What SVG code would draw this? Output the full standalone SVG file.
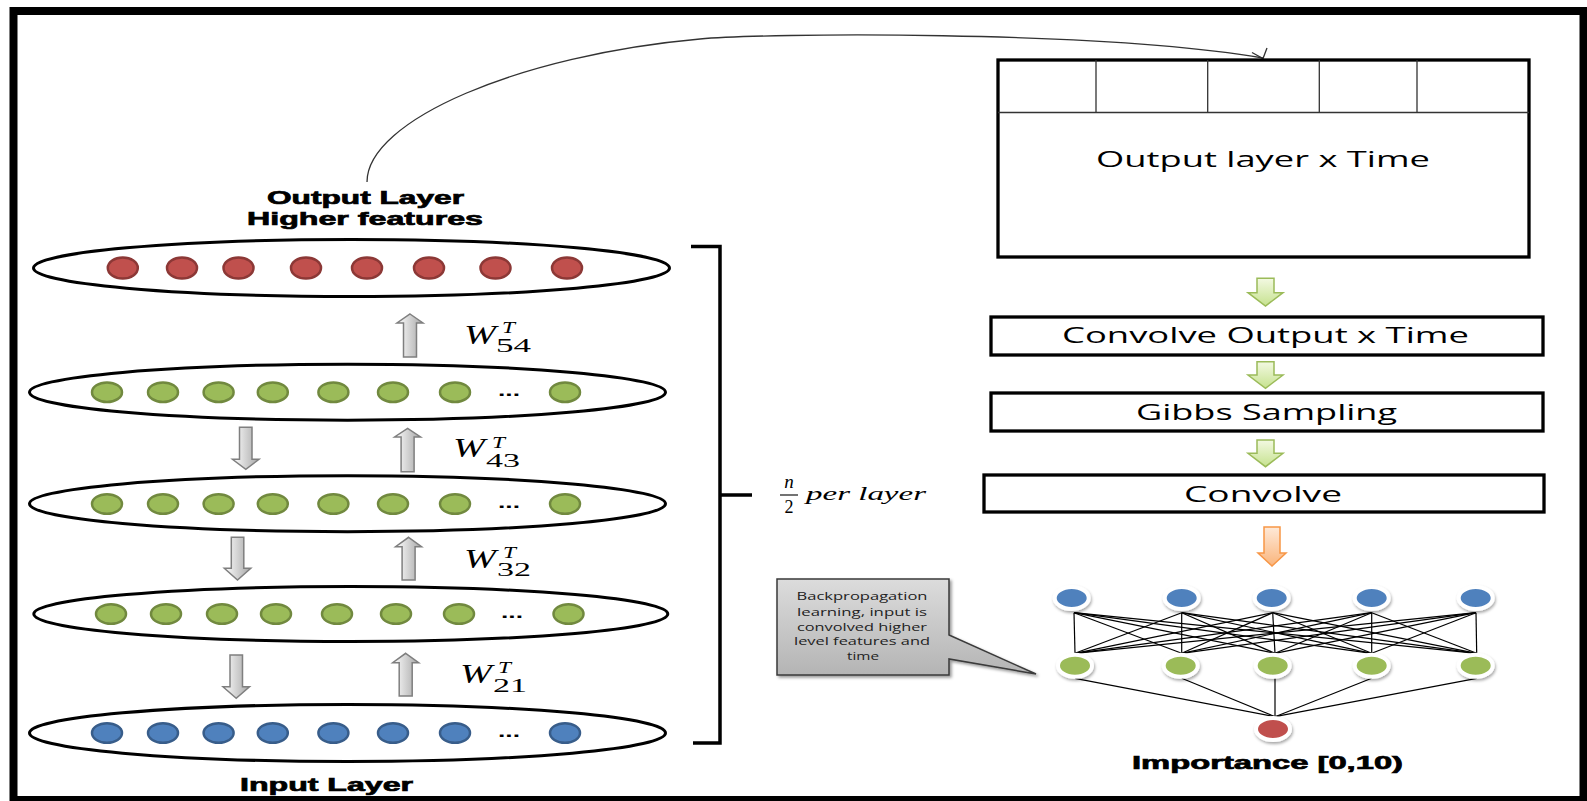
<svg xmlns="http://www.w3.org/2000/svg" width="1587" height="801" viewBox="0 0 1587 801">
<defs>
<linearGradient id="gGray" x1="0" y1="0" x2="1" y2="0"><stop offset="0" stop-color="#ffffff"/><stop offset="1" stop-color="#a6a6a6"/></linearGradient>
<linearGradient id="gGreen" x1="0" y1="0" x2="0" y2="1"><stop offset="0" stop-color="#f3f9e2"/><stop offset="1" stop-color="#c6e28f"/></linearGradient>
<linearGradient id="gOrange" x1="0" y1="0" x2="0" y2="1"><stop offset="0" stop-color="#fee9d8"/><stop offset="1" stop-color="#fab57c"/></linearGradient>
<linearGradient id="gCall" x1="0" y1="0" x2="0" y2="1"><stop offset="0" stop-color="#dcdcdc"/><stop offset="1" stop-color="#b4b4b4"/></linearGradient>
<filter id="sh" x="-30%" y="-30%" width="160%" height="160%"><feDropShadow dx="1" dy="2" stdDeviation="1.8" flood-color="#000" flood-opacity="0.35"/></filter>
<filter id="sh2" x="-10%" y="-10%" width="130%" height="130%"><feDropShadow dx="2" dy="2" stdDeviation="1.5" flood-color="#000" flood-opacity="0.4"/></filter>
</defs>
<style>
.frame{fill:none;stroke:#000;stroke-width:8}
.layer{fill:#fff;stroke:#000;stroke-width:3}
.red{fill:#c0504d;stroke:#8c3836;stroke-width:2.5}
.grn{fill:#9bbb59;stroke:#71893f;stroke-width:2.5}
.blu{fill:#4f81bd;stroke:#385d8a;stroke-width:2.5}
.garr{fill:url(#gGray);stroke:#7f7f7f;stroke-width:1.5}
.farr{fill:url(#gGreen);stroke:#9bbb59;stroke-width:1.5}
.oarr{fill:url(#gOrange);stroke:#f79646;stroke-width:1.5}
.box{fill:#fff;stroke:#000;stroke-width:3.3}
.thin{stroke:#333;stroke-width:1.3;fill:none}
.bold{font-family:"Liberation Sans",Arial,sans-serif;font-weight:bold;font-size:19px;fill:#000;stroke:#000;stroke-width:0.7}
.cal{font-family:"Open Sans",Lato,sans-serif;font-size:22px;fill:#000}
.math{font-family:"Liberation Serif","Times New Roman",serif;fill:#000}
.it{font-style:italic}
.small{font-family:"Open Sans",Lato,sans-serif;font-size:11px;fill:#222;text-anchor:middle}
.nb{fill:#4f81bd;stroke:#fff;stroke-width:4;filter:url(#sh)}
.ng{fill:#9bbb59;stroke:#fff;stroke-width:4;filter:url(#sh)}
.nr{fill:#c0504d;stroke:#fff;stroke-width:4;filter:url(#sh)}
.edge{stroke:#000;stroke-width:1.2}
.br{stroke:#000;stroke-width:3.5;fill:none}
.dots{font-family:"Liberation Sans",Arial,sans-serif;font-weight:bold;font-size:16px;fill:#000}
</style>
<rect class="frame" x="13.5" y="11" width="1570" height="789"/>

<g id="connectors">
<path class="thin" d="M367,182 C367,120 520,55 700,39 C760,33 1100,30 1263,58"/>
<path class="thin" d="M1252,52.5 L1263,58.5 L1267,48"/>
<path class="br" d="M691,246.5 H720 V743 H693 M720,495 H752"/>
</g>

<g id="layer5">
<ellipse class="layer" cx="351.5" cy="268" rx="318" ry="28.5"/>
<ellipse class="red" cx="122.8" cy="268" rx="15" ry="10.5"/>
<ellipse class="red" cx="182" cy="268" rx="15" ry="10.5"/>
<ellipse class="red" cx="238.5" cy="268" rx="15" ry="10.5"/>
<ellipse class="red" cx="306" cy="268" rx="15" ry="10.5"/>
<ellipse class="red" cx="367" cy="268" rx="15" ry="10.5"/>
<ellipse class="red" cx="429" cy="268" rx="15" ry="10.5"/>
<ellipse class="red" cx="495.5" cy="268" rx="15" ry="10.5"/>
<ellipse class="red" cx="567" cy="268" rx="15" ry="10.5"/>
</g>
<g id="label-output">
<text class="bold" x="267" y="203.5" textLength="197" lengthAdjust="spacingAndGlyphs">Output Layer</text>
<text class="bold" x="247" y="225" textLength="236" lengthAdjust="spacingAndGlyphs">Higher features</text>
</g>

<g id="layer4">
<ellipse class="layer" cx="347.5" cy="392.2" rx="318" ry="28"/>
<ellipse class="grn" cx="107" cy="392.2" rx="15" ry="9.8"/>
<ellipse class="grn" cx="163" cy="392.2" rx="15" ry="9.8"/>
<ellipse class="grn" cx="218.6" cy="392.2" rx="15" ry="9.8"/>
<ellipse class="grn" cx="272.8" cy="392.2" rx="15" ry="9.8"/>
<ellipse class="grn" cx="333.4" cy="392.2" rx="15" ry="9.8"/>
<ellipse class="grn" cx="393" cy="392.2" rx="15" ry="9.8"/>
<ellipse class="grn" cx="455" cy="392.2" rx="15" ry="9.8"/>
<text class="dots" x="498" y="396" textLength="22" lengthAdjust="spacingAndGlyphs">...</text>
<ellipse class="grn" cx="565" cy="392.2" rx="15" ry="9.8"/>
</g>

<g id="layer3">
<ellipse class="layer" cx="347.5" cy="503.7" rx="318" ry="28"/>
<ellipse class="grn" cx="107" cy="504" rx="15" ry="9.8"/>
<ellipse class="grn" cx="163" cy="504" rx="15" ry="9.8"/>
<ellipse class="grn" cx="218.6" cy="504" rx="15" ry="9.8"/>
<ellipse class="grn" cx="272.8" cy="504" rx="15" ry="9.8"/>
<ellipse class="grn" cx="333.4" cy="504" rx="15" ry="9.8"/>
<ellipse class="grn" cx="393" cy="504" rx="15" ry="9.8"/>
<ellipse class="grn" cx="455" cy="504" rx="15" ry="9.8"/>
<text class="dots" x="498" y="508" textLength="22" lengthAdjust="spacingAndGlyphs">...</text>
<ellipse class="grn" cx="565" cy="504" rx="15" ry="9.8"/>
</g>

<g id="layer2">
<ellipse class="layer" cx="350.8" cy="614" rx="317" ry="27.5"/>
<ellipse class="grn" cx="111" cy="614" rx="15" ry="9.8"/>
<ellipse class="grn" cx="166" cy="614" rx="15" ry="9.8"/>
<ellipse class="grn" cx="222" cy="614" rx="15" ry="9.8"/>
<ellipse class="grn" cx="276" cy="614" rx="15" ry="9.8"/>
<ellipse class="grn" cx="337" cy="614" rx="15" ry="9.8"/>
<ellipse class="grn" cx="396" cy="614" rx="15" ry="9.8"/>
<ellipse class="grn" cx="459" cy="614" rx="15" ry="9.8"/>
<text class="dots" x="501" y="618" textLength="22" lengthAdjust="spacingAndGlyphs">...</text>
<ellipse class="grn" cx="568.5" cy="614" rx="15" ry="9.8"/>
</g>

<g id="layer1">
<ellipse class="layer" cx="347.5" cy="733" rx="318" ry="28.5"/>
<ellipse class="blu" cx="107" cy="733" rx="15" ry="9.8"/>
<ellipse class="blu" cx="163" cy="733" rx="15" ry="9.8"/>
<ellipse class="blu" cx="218.6" cy="733" rx="15" ry="9.8"/>
<ellipse class="blu" cx="272.8" cy="733" rx="15" ry="9.8"/>
<ellipse class="blu" cx="333.4" cy="733" rx="15" ry="9.8"/>
<ellipse class="blu" cx="393" cy="733" rx="15" ry="9.8"/>
<ellipse class="blu" cx="455" cy="733" rx="15" ry="9.8"/>
<text class="dots" x="498" y="737" textLength="22" lengthAdjust="spacingAndGlyphs">...</text>
<ellipse class="blu" cx="565" cy="733" rx="15" ry="9.8"/>
</g>
<g id="label-input">
<text class="bold" x="240" y="791" textLength="173" lengthAdjust="spacingAndGlyphs">Input Layer</text>
</g>

<g id="gray-arrows">
<path class="garr" d="M410,314 L423,323 L416.5,323 L416.5,357 L403.5,357 L403.5,323 L397,323 Z"/>
<path class="garr" d="M407.6,428.3 L420.6,437 L414.1,437 L414.1,471.7 L401.1,471.7 L401.1,437 L394.6,437 Z"/>
<path class="garr" d="M408.6,537.3 L421.6,546.7 L415.1,546.7 L415.1,580 L402.1,580 L402.1,546.7 L395.6,546.7 Z"/>
<path class="garr" d="M405.7,653.3 L418.7,662.7 L412.2,662.7 L412.2,696 L399.2,696 L399.2,662.7 L392.7,662.7 Z"/>
<path class="garr" d="M239.5,427.3 L252,427.3 L252,459.3 L259,459.3 L245.8,469.3 L232.5,459.3 L239.5,459.3 Z"/>
<path class="garr" d="M231.3,537.3 L243.8,537.3 L243.8,568.3 L250.8,568.3 L237.5,580 L224.3,568.3 L231.3,568.3 Z"/>
<path class="garr" d="M230,655 L242.5,655 L242.5,686.7 L249.5,686.7 L236.2,698.3 L223,686.7 L230,686.7 Z"/>
</g>

<g id="weights">
<text class="math it" font-size="27" x="464" y="343.5" textLength="32" lengthAdjust="spacingAndGlyphs">W</text>
<text class="math it" font-size="17" x="502" y="333.3" textLength="13" lengthAdjust="spacingAndGlyphs">T</text>
<text class="math" font-size="18" x="496" y="351.7" textLength="35" lengthAdjust="spacingAndGlyphs">54</text>
<text class="math it" font-size="27" x="453" y="456.7" textLength="32" lengthAdjust="spacingAndGlyphs">W</text>
<text class="math it" font-size="17" x="492" y="448.3" textLength="13" lengthAdjust="spacingAndGlyphs">T</text>
<text class="math" font-size="18" x="486" y="466.7" textLength="34" lengthAdjust="spacingAndGlyphs">43</text>
<text class="math it" font-size="27" x="464" y="568.3" textLength="32" lengthAdjust="spacingAndGlyphs">W</text>
<text class="math it" font-size="17" x="503" y="558" textLength="13" lengthAdjust="spacingAndGlyphs">T</text>
<text class="math" font-size="18" x="497" y="576.3" textLength="34" lengthAdjust="spacingAndGlyphs">32</text>
<text class="math it" font-size="27" x="460" y="683.3" textLength="32" lengthAdjust="spacingAndGlyphs">W</text>
<text class="math it" font-size="17" x="498" y="673.3" textLength="13" lengthAdjust="spacingAndGlyphs">T</text>
<text class="math" font-size="18" x="493" y="691.7" textLength="34" lengthAdjust="spacingAndGlyphs">21</text>
</g>

<g id="per-layer">
<text class="math it" font-size="19" x="789" y="488" text-anchor="middle">n</text>
<line x1="780" y1="495" x2="798" y2="495" stroke="#000" stroke-width="1.1"/>
<text class="math" font-size="18" x="789" y="513" text-anchor="middle">2</text>
<text class="math it" font-size="18" x="806" y="500" textLength="120" lengthAdjust="spacingAndGlyphs">per layer</text>
</g>

<g id="output-time">
<rect class="box" x="998" y="60" width="531" height="197"/>
<path class="thin" d="M998,112.5 H1529 M1096,60 V112.5 M1207.7,60 V112.5 M1319.3,60 V112.5 M1417,60 V112.5"/>
<text class="cal" font-size="23" x="1096" y="166.7" textLength="334" lengthAdjust="spacingAndGlyphs">Output layer x Time</text>
</g>

<g id="flow-arrows">
<path class="farr" d="M1257,278.3 L1274,278.3 L1274,292.7 L1283,292.7 L1265.5,306 L1248,292.7 L1257,292.7 Z"/>
<path class="farr" d="M1257,361.7 L1274,361.7 L1274,375 L1283,375 L1265.5,388.3 L1248,375 L1257,375 Z"/>
<path class="farr" d="M1257,440 L1274,440 L1274,453.3 L1283,453.3 L1265.5,466.7 L1248,453.3 L1257,453.3 Z"/>
<path class="oarr" d="M1264,527 L1280,527 L1280,553 L1286,553 L1272,566 L1258,553 L1264,553 Z"/>
</g>

<g id="convolve-output">
<rect class="box" x="991" y="317" width="552" height="38"/>
<text class="cal" font-size="22" x="1062" y="343" textLength="407" lengthAdjust="spacingAndGlyphs">Convolve Output x Time</text>
</g>
<g id="gibbs">
<rect class="box" x="991" y="393" width="552" height="38"/>
<text class="cal" font-size="22" x="1136" y="420" textLength="261" lengthAdjust="spacingAndGlyphs">Gibbs Sampling</text>
</g>
<g id="convolve">
<rect class="box" x="984" y="475" width="560" height="37"/>
<text class="cal" font-size="22" x="1184" y="501.7" textLength="158" lengthAdjust="spacingAndGlyphs">Convolve</text>
</g>

<g id="callout">
<path d="M777,579 H949 V635 L1036,674 L949,659 V675 H777 Z" fill="url(#gCall)" stroke="#3a3a3a" stroke-width="1.5" filter="url(#sh2)"/>
<text class="small" x="862" y="600" textLength="131" lengthAdjust="spacingAndGlyphs">Backpropagation</text>
<text class="small" x="862" y="615.5" textLength="130" lengthAdjust="spacingAndGlyphs">learning, input is</text>
<text class="small" x="862" y="630.5" textLength="130" lengthAdjust="spacingAndGlyphs">convolved higher</text>
<text class="small" x="862" y="645" textLength="136" lengthAdjust="spacingAndGlyphs">level features and</text>
<text class="small" x="863" y="659.5" textLength="32" lengthAdjust="spacingAndGlyphs">time</text>
</g>

<g id="network-edges">
<g class="edge">
<line x1="1074" y1="612.7" x2="1075" y2="653.3"/><line x1="1074" y1="612.7" x2="1181.7" y2="653.3"/><line x1="1074" y1="612.7" x2="1275" y2="653.3"/><line x1="1074" y1="612.7" x2="1371.7" y2="653.3"/><line x1="1074" y1="612.7" x2="1476.7" y2="653.3"/>
<line x1="1181.7" y1="612.7" x2="1075" y2="653.3"/><line x1="1181.7" y1="612.7" x2="1181.7" y2="653.3"/><line x1="1181.7" y1="612.7" x2="1275" y2="653.3"/><line x1="1181.7" y1="612.7" x2="1371.7" y2="653.3"/><line x1="1181.7" y1="612.7" x2="1476.7" y2="653.3"/>
<line x1="1272.7" y1="612.7" x2="1075" y2="653.3"/><line x1="1272.7" y1="612.7" x2="1181.7" y2="653.3"/><line x1="1272.7" y1="612.7" x2="1275" y2="653.3"/><line x1="1272.7" y1="612.7" x2="1371.7" y2="653.3"/><line x1="1272.7" y1="612.7" x2="1476.7" y2="653.3"/>
<line x1="1371.7" y1="612.7" x2="1075" y2="653.3"/><line x1="1371.7" y1="612.7" x2="1181.7" y2="653.3"/><line x1="1371.7" y1="612.7" x2="1275" y2="653.3"/><line x1="1371.7" y1="612.7" x2="1371.7" y2="653.3"/><line x1="1371.7" y1="612.7" x2="1476.7" y2="653.3"/>
<line x1="1476" y1="612.7" x2="1075" y2="653.3"/><line x1="1476" y1="612.7" x2="1181.7" y2="653.3"/><line x1="1476" y1="612.7" x2="1275" y2="653.3"/><line x1="1476" y1="612.7" x2="1371.7" y2="653.3"/><line x1="1476" y1="612.7" x2="1476.7" y2="653.3"/>
<line x1="1075" y1="678.3" x2="1275" y2="716.7"/><line x1="1181.7" y1="678.3" x2="1275" y2="716.7"/><line x1="1275" y1="678.3" x2="1275" y2="716.7"/><line x1="1371.7" y1="678.3" x2="1275" y2="716.7"/><line x1="1476.7" y1="678.3" x2="1275" y2="716.7"/>
</g>
</g>

<g id="network-nodes">
<ellipse class="nb" cx="1071.7" cy="598" rx="17" ry="11"/>
<ellipse class="nb" cx="1181.7" cy="598" rx="17" ry="11"/>
<ellipse class="nb" cx="1271.7" cy="598" rx="17" ry="11"/>
<ellipse class="nb" cx="1371.7" cy="598" rx="17" ry="11"/>
<ellipse class="nb" cx="1475.7" cy="598" rx="17" ry="11"/>
<ellipse class="ng" cx="1075" cy="665.7" rx="17" ry="11"/>
<ellipse class="ng" cx="1180.7" cy="665.7" rx="17" ry="11"/>
<ellipse class="ng" cx="1272.7" cy="665.7" rx="17" ry="11"/>
<ellipse class="ng" cx="1371.7" cy="665.7" rx="17" ry="11"/>
<ellipse class="ng" cx="1475.7" cy="665.7" rx="17" ry="11"/>
<ellipse class="nr" cx="1273" cy="729" rx="17" ry="11"/>
</g>
<g id="label-importance">
<text class="bold" font-size="20" x="1132" y="769" textLength="271" lengthAdjust="spacingAndGlyphs">Importance [0,10)</text>
</g>
</svg>
